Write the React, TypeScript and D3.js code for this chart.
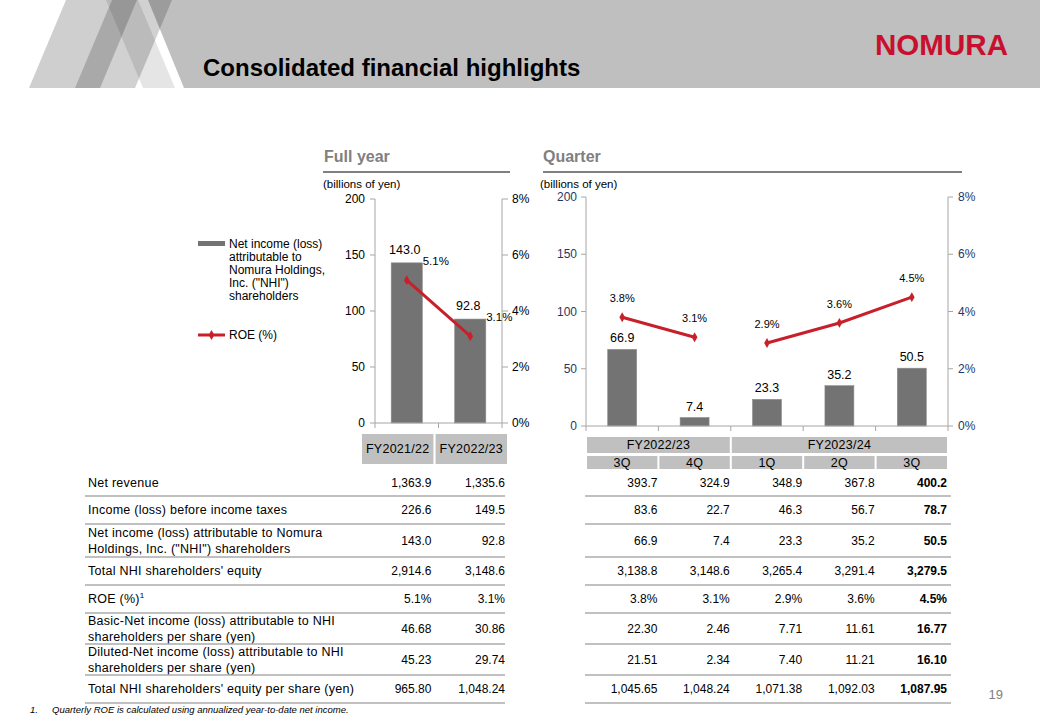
import React from "react";
import * as d3 from "d3";

// ---------- data ----------
const fyCategories = ["FY2021/22", "FY2022/23"];
const fyNetIncome = [143.0, 92.8];
const fyROE = [5.1, 3.1];

const quarterIds = ["FY2022/23 3Q", "FY2022/23 4Q", "FY2023/24 1Q", "FY2023/24 2Q", "FY2023/24 3Q"];
const quarterLabels = ["3Q", "4Q", "1Q", "2Q", "3Q"];
const quarterFiscalYears = ["FY2022/23", "FY2022/23", "FY2023/24", "FY2023/24", "FY2023/24"];
const fiscalYears = ["FY2022/23", "FY2023/24"];
const qNetIncome = [66.9, 7.4, 23.3, 35.2, 50.5];
const qROE = [3.8, 3.1, 2.9, 3.6, 4.5];

const incomeTicks = [0, 50, 100, 150, 200];
const roeTicks = [0, 2, 4, 6, 8];

const legendIncomeLines = ["Net income (loss)", "attributable to", "Nomura Holdings,", "Inc. (\"NHI\")", "shareholders"];
const legendROE = "ROE (%)";

const rowLabels = [
  ["Net revenue"],
  ["Income (loss) before income taxes"],
  ["Net income (loss) attributable to Nomura", "Holdings, Inc. (\"NHI\") shareholders"],
  ["Total NHI shareholders' equity"],
  ["ROE (%)"],
  ["Basic-Net income (loss) attributable to NHI", "shareholders per share (yen)"],
  ["Diluted-Net income (loss) attributable to NHI", "shareholders per share (yen)"],
  ["Total NHI shareholders' equity per share (yen)"],
];
const fyTable = [
  ["1,363.9", "1,335.6"],
  ["226.6", "149.5"],
  ["143.0", "92.8"],
  ["2,914.6", "3,148.6"],
  ["5.1%", "3.1%"],
  ["46.68", "30.86"],
  ["45.23", "29.74"],
  ["965.80", "1,048.24"],
];
const qTable = [
  ["393.7", "324.9", "348.9", "367.8", "400.2"],
  ["83.6", "22.7", "46.3", "56.7", "78.7"],
  ["66.9", "7.4", "23.3", "35.2", "50.5"],
  ["3,138.8", "3,148.6", "3,265.4", "3,291.4", "3,279.5"],
  ["3.8%", "3.1%", "2.9%", "3.6%", "4.5%"],
  ["22.30", "2.46", "7.71", "11.61", "16.77"],
  ["21.51", "2.34", "7.40", "11.21", "16.10"],
  ["1,045.65", "1,048.24", "1,071.38", "1,092.03", "1,087.95"],
];
const footnote = "Quarterly ROE is calculated using annualized year-to-date net income.";

// ---------- component ----------
export default function App() {
  const W = 1040, H = 720;
  const font = "'Liberation Sans', Arial, Helvetica, sans-serif";
  const red = "#c8202a";
  const barColor = "#737373";
  const axisColor = "#a6a6a6";
  const headBg = "#c0c0c0";
  const lineColor = "#ababab";

  // full-year chart scales
  const yL = d3.scaleLinear().domain([0, 200]).range([423, 199]);
  const yLR = d3.scaleLinear().domain([0, 8]).range([423, 199]);
  const xL = d3.scaleBand().domain(fyCategories).range([375, 502]).padding(0);
  const barWL = xL.bandwidth() * 0.49;

  // quarter chart scales
  const yQ = d3.scaleLinear().domain([0, 200]).range([426, 197]);
  const yQR = d3.scaleLinear().domain([0, 8]).range([426, 197]);
  const xQ = d3.scaleBand().domain(quarterIds).range([586, 948]).padding(0);
  const barWQ = xQ.bandwidth() * 0.4;

  const lineL = d3.line<number>().x((_, i) => xL(fyCategories[i])! + xL.bandwidth() / 2).y((d) => yLR(d));
  const diamond = d3.symbol().type(d3.symbolDiamond).size(28)()!;

  // table layout
  const xFYT = d3.scaleBand().domain(fyCategories).range([362, 507]).paddingInner(0.03);
  const rowLines = [469, 496, 524, 557, 585, 613, 644, 675, 703];
  const rowCenter = (i: number) => (rowLines[i] + rowLines[i + 1]) / 2;

  const qGroups = fiscalYears.map((fy) => {
    const idx = quarterIds.map((_, i) => i).filter((i) => quarterFiscalYears[i] === fy);
    return { fy, idx };
  });
  const qLine = d3.line<number>().x((i) => xQ(quarterIds[i])! + xQ.bandwidth() / 2).y((i) => yQR(qROE[i]));

  const labelFont = { fontSize: 12.5, letterSpacing: 0.25 };

  return (
    <svg width={W} height={H} viewBox={`0 0 ${W} ${H}`}
      style={{ position: "absolute", left: 0, top: 0, background: "#fff", fontFamily: font }}>
      <rect x={0} y={0} width={W} height={H} fill="#fff" />
      {/* header decoration */}
      <g>
        <polygon points="29,88 66,0 137,0 100,88" fill="#000" fillOpacity={0.19} />
        <polygon points="75,88 112,0 172,0 135,88" fill="#000" fillOpacity={0.18} />
        <polygon points="106,0 138,0 175,88 143,88" fill="#000" fillOpacity={0.1} />
        <polygon points={`148,0 ${W},0 ${W},88 184,88`} fill="#000" fillOpacity={0.25} />
      </g>
      <text x={203} y={76} fontSize={24} fontWeight="bold" fill="#000">Consolidated financial highlights</text>
      <text x={875} y={55} fontSize={30} fontWeight="bold" fill="#c8102e" textLength={133} lengthAdjust="spacingAndGlyphs">NOMURA</text>

      {/* section titles */}
      <text x={324} y={162} fontSize={16} fontWeight="bold" fill="#808080">Full year</text>
      <line x1={323} x2={510} y1={172} y2={172} stroke="#808080" strokeWidth={2} />
      <text x={543} y={162} fontSize={16} fontWeight="bold" fill="#808080">Quarter</text>
      <line x1={543} x2={962} y1={172} y2={172} stroke="#808080" strokeWidth={2} />
      <text x={323} y={188} fontSize={11.5} fill="#000">(billions of yen)</text>
      <text x={540} y={188} fontSize={11.5} fill="#000">(billions of yen)</text>

      {/* legend */}
      <rect x={198} y={241} width={27} height={5} fill={barColor} />
      {legendIncomeLines.map((t, i) => (
        <text key={t} x={229} y={248 + i * 13} fontSize={12} fill="#000">{t}</text>
      ))}
      <line x1={198} x2={225} y1={335} y2={335} stroke={red} strokeWidth={3} />
      <path d={diamond} transform="translate(211.5,335)" fill={red} />
      <text x={229} y={339} fontSize={12} fill="#000">{legendROE}</text>

      {/* ---------- full-year chart ---------- */}
      <g>
        {fyCategories.map((c, i) => (
          <rect key={c} x={xL(c)! + (xL.bandwidth() - barWL) / 2} y={yL(fyNetIncome[i])}
            width={barWL} height={yL(0) - yL(fyNetIncome[i])} fill={barColor} stroke="#8c8c8c" strokeWidth={0.6} />
        ))}
        <line x1={375} x2={375} y1={yL(200)} y2={yL(0)} stroke={axisColor} />
        <line x1={502} x2={502} y1={yLR(8)} y2={yLR(0)} stroke={axisColor} />
        <line x1={375} x2={502} y1={yL(0)} y2={yL(0)} stroke={axisColor} />
        {incomeTicks.map((t) => (
          <g key={t}>
            <line x1={370} x2={375} y1={yL(t)} y2={yL(t)} stroke={axisColor} />
            <text x={365} y={yL(t) + 4} fontSize={12} textAnchor="end" fill="#000">{t}</text>
          </g>
        ))}
        {roeTicks.map((t) => (
          <g key={t}>
            <line x1={502} x2={508} y1={yLR(t)} y2={yLR(t)} stroke={axisColor} />
            <text x={512} y={yLR(t) + 4} fontSize={12} fill="#000">{t}%</text>
          </g>
        ))}
        {[...fyCategories.map((c) => xL(c)!), 502].map((x, i) => (
          <line key={i} x1={x} x2={x} y1={yL(0)} y2={yL(0) + 5} stroke={axisColor} />
        ))}
        {fyCategories.map((c, i) => (
          <text key={c} x={xL(c)! + xL.bandwidth() / 2 - 2} y={yL(fyNetIncome[i]) - 9} fontSize={12.5}
            textAnchor="middle" fill="#000">{fyNetIncome[i].toFixed(1)}</text>
        ))}
        <path d={lineL(fyROE)!} fill="none" stroke={red} strokeWidth={3} />
        {fyCategories.map((c, i) => (
          <g key={c}>
            <path d={diamond} transform={`translate(${xL(c)! + xL.bandwidth() / 2},${yLR(fyROE[i])})`} fill={red} />
            <text x={xL(c)! + xL.bandwidth() / 2 + 29} y={yLR(fyROE[i]) - 15} fontSize={11.5}
              textAnchor="middle" fill="#000">{fyROE[i].toFixed(1)}%</text>
          </g>
        ))}
      </g>

      {/* ---------- quarter chart ---------- */}
      <g>
        {quarterIds.map((q, i) => (
          <rect key={q} x={xQ(q)! + (xQ.bandwidth() - barWQ) / 2} y={yQ(qNetIncome[i])}
            width={barWQ} height={yQ(0) - yQ(qNetIncome[i])} fill={barColor} stroke="#8c8c8c" strokeWidth={0.6} />
        ))}
        <line x1={586} x2={586} y1={yQ(200)} y2={yQ(0)} stroke={axisColor} />
        <line x1={948} x2={948} y1={yQR(8)} y2={yQR(0)} stroke={axisColor} />
        <line x1={586} x2={948} y1={yQ(0)} y2={yQ(0)} stroke={axisColor} />
        {incomeTicks.map((t) => (
          <g key={t}>
            <line x1={581} x2={586} y1={yQ(t)} y2={yQ(t)} stroke={axisColor} />
            <text x={577} y={yQ(t) + 4} fontSize={12} textAnchor="end" fill="#1f3864">{t}</text>
          </g>
        ))}
        {roeTicks.map((t) => (
          <g key={t}>
            <line x1={948} x2={953} y1={yQR(t)} y2={yQR(t)} stroke={axisColor} />
            <text x={958} y={yQR(t) + 4} fontSize={12} fill="#1f3864">{t}%</text>
          </g>
        ))}
        {[...quarterIds.map((q) => xQ(q)!), 948].map((x, i) => (
          <line key={i} x1={x} x2={x} y1={yQ(0)} y2={yQ(0) + 5} stroke={axisColor} />
        ))}
        {quarterIds.map((q, i) => (
          <text key={q} x={xQ(q)! + xQ.bandwidth() / 2} y={yQ(qNetIncome[i]) - 7} fontSize={12.5}
            textAnchor="middle" fill="#000">{qNetIncome[i].toFixed(1)}</text>
        ))}
        {qGroups.map((g) => (
          <path key={g.fy} d={qLine(g.idx)!} fill="none" stroke={red} strokeWidth={3} />
        ))}
        {quarterIds.map((q, i) => (
          <g key={q}>
            <path d={diamond} transform={`translate(${xQ(q)! + xQ.bandwidth() / 2},${yQR(qROE[i])})`} fill={red} />
            <text x={xQ(q)! + xQ.bandwidth() / 2} y={yQR(qROE[i]) - 15} fontSize={11}
              textAnchor="middle" fill="#000">{qROE[i].toFixed(1)}%</text>
          </g>
        ))}
      </g>

      {/* ---------- table headers ---------- */}
      {fyCategories.map((c) => (
        <g key={c}>
          <rect x={xFYT(c)!} y={434} width={xFYT.bandwidth()} height={30} fill={headBg} />
          <text x={xFYT(c)! + xFYT.bandwidth() / 2} y={453} {...labelFont} textAnchor="middle" fill="#000">{c}</text>
        </g>
      ))}
      {qGroups.map((g) => {
        const x0 = xQ(quarterIds[g.idx[0]])!;
        const x1 = xQ(quarterIds[g.idx[g.idx.length - 1]])! + xQ.bandwidth();
        return (
          <g key={g.fy}>
            <rect x={x0 + 1} y={437} width={x1 - x0 - 2} height={16} fill={headBg} />
            <text x={(x0 + x1) / 2} y={449} {...labelFont} textAnchor="middle" fill="#000">{g.fy}</text>
          </g>
        );
      })}
      {quarterIds.map((q, i) => (
        <g key={q}>
          <rect x={xQ(q)! + 1} y={456} width={xQ.bandwidth() - 2} height={13} fill={headBg} />
          <text x={xQ(q)! + xQ.bandwidth() / 2} y={467} {...labelFont} textAnchor="middle" fill="#000">{quarterLabels[i]}</text>
        </g>
      ))}

      {/* ---------- table rows ---------- */}
      {rowLabels.map((lines, r) => {
        const cy = rowCenter(r);
        return (
          <g key={r}>
            {lines.map((t, k) => (
              <text key={k} x={88} y={cy + 4 + (k - (lines.length - 1) / 2) * 16} {...labelFont} fill="#000">
                {t}
                {r === 4 && k === 0 ? <tspan fontSize={8} dy={-5}>1</tspan> : null}
              </text>
            ))}
            {fyCategories.map((c, j) => (
              <text key={c} x={xFYT(c)! + xFYT.bandwidth() - 2} y={cy + 4} fontSize={12} textAnchor="end" fill="#000">
                {fyTable[r][j]}
              </text>
            ))}
            {quarterIds.map((q, j) => (
              <text key={q} x={xQ(q)! + xQ.bandwidth() - 1} y={cy + 4} fontSize={12} textAnchor="end"
                fontWeight={j === quarterIds.length - 1 ? "bold" : "normal"} fill="#000">
                {qTable[r][j]}
              </text>
            ))}
            <line x1={85} x2={505} y1={rowLines[r + 1]} y2={rowLines[r + 1]} stroke={lineColor} strokeWidth={1.5} />
            <line x1={585} x2={951} y1={rowLines[r + 1]} y2={rowLines[r + 1]} stroke={lineColor} strokeWidth={1.5} />
          </g>
        );
      })}

      {/* footnote & page number */}
      <text x={30} y={713} fontSize={9.5} fontStyle="italic" fill="#000">1.</text>
      <text x={52} y={713} fontSize={9.5} fontStyle="italic" fill="#000">{footnote}</text>
      <text x={1003} y={699} fontSize={13} textAnchor="end" fill="#808080">19</text>
    </svg>
  );
}
